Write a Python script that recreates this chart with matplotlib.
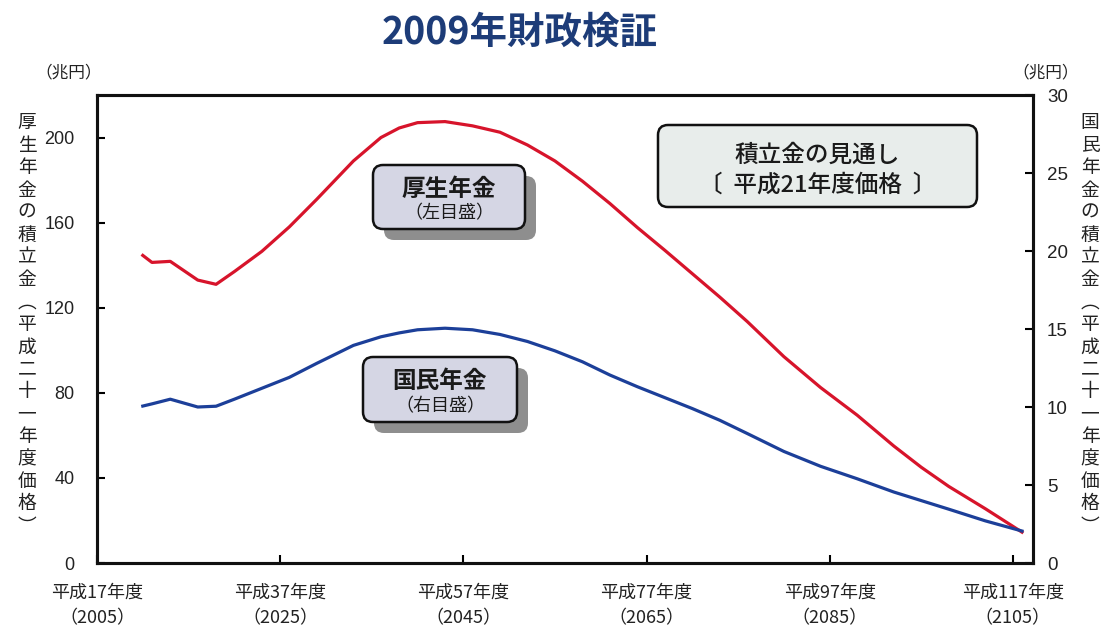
import matplotlib
matplotlib.use('Agg')
import matplotlib.pyplot as plt
from matplotlib.patches import FancyBboxPatch

plt.rcParams['font.family'] = ['Noto Sans CJK JP', 'DejaVu Sans']

# ---- data ----
years = [2010, 2011, 2013, 2016, 2018, 2020, 2023, 2026, 2029, 2033, 2036, 2038,
         2040, 2043, 2046, 2049, 2052, 2055, 2058, 2061, 2064, 2067, 2070, 2073,
         2076, 2080, 2084, 2088, 2092, 2095, 2098, 2102, 2106]
kousei = [144.6, 141.3, 141.8, 133.0, 131.0, 137.0, 146.5, 158.0, 171.0, 189.0, 200.0, 204.5,
          207.0, 207.5, 205.5, 202.5, 196.5, 189.0, 179.5, 169.0, 157.7, 147.0, 136.0, 125.0,
          113.5, 97.0, 82.5, 69.5, 55.0, 45.0, 36.0, 25.5, 14.5]
kokumin = [10.06, 10.2, 10.5, 10.0, 10.05, 10.5, 11.2, 11.9, 12.8, 13.95, 14.5, 14.75,
           14.95, 15.05, 14.95, 14.65, 14.2, 13.6, 12.9, 12.05, 11.3, 10.6, 9.9, 9.15,
           8.3, 7.15, 6.2, 5.4, 4.55, 4.0, 3.45, 2.7, 2.05]

xtick_years = [2005, 2025, 2045, 2065, 2085, 2105]
xtick_labels = ['平成17年度\n（2005）', '平成37年度\n（2025）', '平成57年度\n（2045）',
                '平成77年度\n（2065）', '平成97年度\n（2085）', '平成117年度\n（2105）']
left_ticks = [0, 40, 80, 120, 160, 200]
right_ticks = [0, 5, 10, 15, 20, 25, 30]

title = '2009年財政検証'
unit = '（兆円）'
ylabel_left = '厚生年金の積立金︵平成二十一年度価格︶'
ylabel_right = '国民年金の積立金︵平成二十一年度価格︶'
box1_lines = ['厚生年金', '（左目盛）']
box2_lines = ['国民年金', '（右目盛）']
box3_lines = ['積立金の見通し', '〔  平成21年度価格  〕']

# ---- figure ----
W, H = 1101, 626
fig = plt.figure(figsize=(W / 100, H / 100), dpi=100)
fig.patch.set_facecolor('white')

L, R, T, B = 97, 1033, 95, 563
ax = fig.add_axes([L / W, 1 - B / H, (R - L) / W, (B - T) / H])
ax2 = ax.twinx()

ax.plot(years, kousei, color='#d7142b', lw=2.3, solid_joinstyle='round', zorder=3)
ax2.plot(years, kokumin, color='#1c3f99', lw=2.3, solid_joinstyle='round', zorder=3)

ax.set_xlim(2005, 2107.2)
ax.set_ylim(0, 220)
ax2.set_ylim(0, 30)

ax.set_yticks(left_ticks)
ax2.set_yticks(right_ticks)
ax.set_xticks(xtick_years)
ax.set_xticklabels(xtick_labels)
for lab in ax.get_xticklabels():
    lab.set_linespacing(1.5)
    lab.set_color('#222222')

for a in (ax, ax2):
    for s in a.spines.values():
        s.set_linewidth(2.2)
        s.set_color('#111111')

ax.tick_params(axis='y', direction='in', length=6, width=1.5, pad=16, labelsize=13,
               labelcolor='#222222')
ax2.tick_params(axis='y', direction='in', length=6, width=1.5, pad=10, labelsize=13.5,
                labelcolor='#222222')
ax.tick_params(axis='x', direction='in', length=6, width=1.5, pad=15, labelsize=13)
for lab in ax.get_yticklabels() + ax2.get_yticklabels():
    lab.set_family(['Liberation Sans', 'DejaVu Sans'])

# ---- texts outside axes ----
fig.text(520 / W, 1 - 32 / H, title, ha='center', va='center', fontsize=27,
         fontweight='bold', color='#1d3c78')
fig.text(69 / W, 1 - 73 / H, unit, ha='center', va='center', fontsize=12, color='#222222')
fig.text(1046 / W, 1 - 73 / H, unit, ha='center', va='center', fontsize=12, color='#222222')

step = (526 - 123) / (len(ylabel_left) - 1)
for i, ch in enumerate(ylabel_left):
    fig.text(27 / W, 1 - (123 + i * step) / H, ch, ha='center', va='center',
             fontsize=13.5, color='#222222')
for i, ch in enumerate(ylabel_right):
    fig.text(1090 / W, 1 - (123 + i * step) / H, ch, ha='center', va='center',
             fontsize=13.5, color='#222222')


# ---- annotation boxes ----
def px_box(x0, y0, x1, y1, face, edge='#111111', lw=1.8, r=10, z=5):
    p = FancyBboxPatch((x0 / 100, (H - y1) / 100), (x1 - x0) / 100, (y1 - y0) / 100,
                       boxstyle=f'round,pad=0,rounding_size={r / 100}',
                       transform=fig.dpi_scale_trans, facecolor=face,
                       edgecolor=edge, linewidth=lw, zorder=z)
    fig.add_artist(p)


def label_box(x0, y0, x1, y1, lines, face, shadow, size1, size2, w1, w2, y_1, y_2):
    if shadow:
        px_box(x0 + 11, y0 + 11, x1 + 11, y1 + 11, '#8e8e8e', edge='none', lw=0, z=4)
    px_box(x0, y0, x1, y1, face)
    cx = (x0 + x1) / 2
    fig.text(cx / W, 1 - y_1 / H, lines[0], ha='center', va='center', fontsize=size1,
             fontweight=w1, color='#1a1a1a', zorder=6)
    fig.text(cx / W, 1 - y_2 / H, lines[1], ha='center', va='center', fontsize=size2,
             fontweight=w2, color='#1a1a1a', zorder=6)


label_box(373, 165, 525, 229, box1_lines, '#d5d6e4', True, 17, 13, 'bold', 'normal', 189, 213)
label_box(363, 357, 517, 422, box2_lines, '#d5d6e4', True, 17, 13, 'bold', 'normal', 381, 406)
label_box(658, 125, 977, 207, box3_lines, '#e8edeb', False, 17, 17, 'medium', 'medium', 155, 185)

fig.savefig('out.png', dpi=100, facecolor='white')
